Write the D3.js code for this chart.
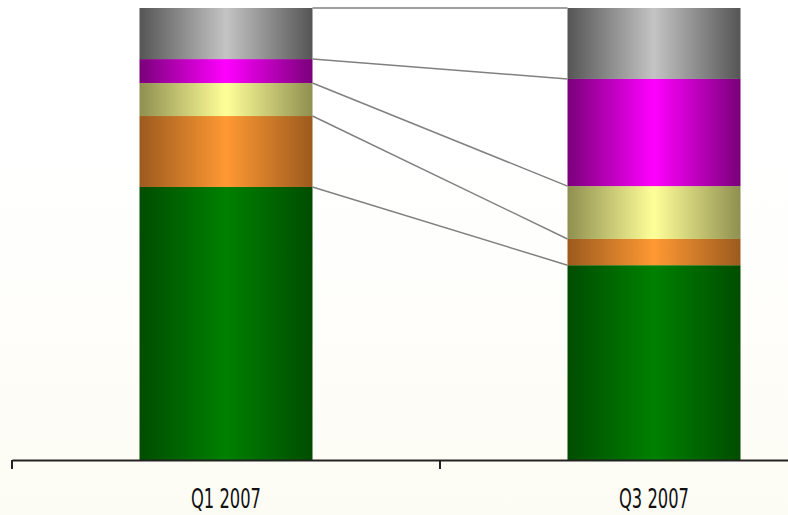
<!DOCTYPE html>
<html>
<head>
<meta charset="utf-8">
<script src="https://cdn.jsdelivr.net/npm/d3@7"></script>
<style>
  html, body { margin: 0; padding: 0; background: #fff; }
  svg { display: block; }
</style>
</head>
<body>
<svg id="chart" width="788" height="515"></svg>
<script>
// categories and series (percent share, bottom to top)
const categories = ['Q1 2007', 'Q3 2007']
const seriesNames = ['green', 'orange', 'yellow', 'magenta', 'gray']
const green = [60.4, 43.1]
const orange = [15.7, 5.8]
const yellow = [7.3, 11.7]
const magenta = [5.3, 23.7]
const gray = [11.3, 15.7]

// edge / centre colour of each series gradient
const edgeColors = ['#004d00', '#9c5a1e', '#8f8f50', '#7a007a', '#555555']
const midColors = ['#008000', '#ff9933', '#ffff99', '#ff00ff', '#c4c4c4']

const svg = d3.select('#chart')
const width = 788
const height = 515
const margin = { top: 8, left: 12, bottom: 55 }

const rows = categories.map((c, i) => ({
	cat: c,
	green: green[i],
	orange: orange[i],
	yellow: yellow[i],
	magenta: magenta[i],
	gray: gray[i],
}))
const stacked = d3.stack().keys(seriesNames).offset(d3.stackOffsetExpand)(rows)

// band for each category, the last band runs off the right edge
const x = d3.scaleBand()
	.domain(categories)
	.range([margin.left, margin.left + 428 * categories.length])
	.paddingInner(0)
	.paddingOuter(0)
const barW = 173
const y = d3.scaleLinear().domain([0, 1]).range([height - margin.bottom, margin.top])

const defs = svg.append('defs')
const bg = defs.append('linearGradient').attr('id', 'bg').attr('x1', 0).attr('y1', 0).attr('x2', 0).attr('y2', 1)
bg.append('stop').attr('offset', '0%').attr('stop-color', '#ffffff')
bg.append('stop').attr('offset', '30%').attr('stop-color', '#ffffff')
bg.append('stop').attr('offset', '100%').attr('stop-color', '#fdfcf4')

seriesNames.forEach((s, i) => {
	const g = defs.append('linearGradient').attr('id', `grad-${s}`)
		.attr('x1', 0).attr('y1', 0).attr('x2', 1).attr('y2', 0)
	g.append('stop').attr('offset', '0%').attr('stop-color', edgeColors[i])
	g.append('stop').attr('offset', '50%').attr('stop-color', midColors[i])
	g.append('stop').attr('offset', '100%').attr('stop-color', edgeColors[i])
})

svg.append('rect').attr('width', width).attr('height', height).attr('fill', 'url(#bg)')

const barX = (c) => x(c) + (x.bandwidth() - barW) / 2

// bars
svg.selectAll('g.series')
	.data(stacked)
	.join('g')
	.attr('class', 'series')
	.attr('fill', (d) => `url(#grad-${d.key})`)
	.selectAll('rect')
	.data((d) => d)
	.join('rect')
	.attr('x', (d) => barX(d.data.cat))
	.attr('width', barW)
	.attr('y', (d) => y(d[1]))
	.attr('height', (d) => y(d[0]) - y(d[1]))

// series lines joining the segment boundaries
const boundaries = stacked.map((s) => s.map((d) => d[1]))
svg.selectAll('line.link')
	.data(boundaries)
	.join('line')
	.attr('class', 'link')
	.attr('x1', barX(categories[0]) + barW)
	.attr('x2', barX(categories[1]))
	.attr('y1', (d) => y(d[0]))
	.attr('y2', (d) => y(d[1]))
	.attr('stroke', '#808080')
	.attr('stroke-width', 1.5)

// axis
const axis = svg.append('g')
	.attr('transform', `translate(0,${y(0)})`)
	.call(d3.axisBottom(x).tickSize(0).tickSizeOuter(0))
axis.select('.domain').attr('stroke', '#222').attr('stroke-width', 2)
axis.selectAll('.tick text')
	.attr('y', 48)
	.attr('dy', 0)
	.attr('font-family', '"Liberation Sans Narrow", "DejaVu Sans Condensed", sans-serif')
	.attr('font-size', 26)
	.attr('fill', '#111')
	.attr('textLength', 70)
	.attr('lengthAdjust', 'spacingAndGlyphs')

// band boundary ticks
axis.selectAll('line.sep')
	.data(categories)
	.join('line')
	.attr('class', 'sep')
	.attr('x1', (d) => x(d))
	.attr('x2', (d) => x(d))
	.attr('y1', 0)
	.attr('y2', 9)
	.attr('stroke', '#222')
	.attr('stroke-width', 2)
</script>
</body>
</html>
